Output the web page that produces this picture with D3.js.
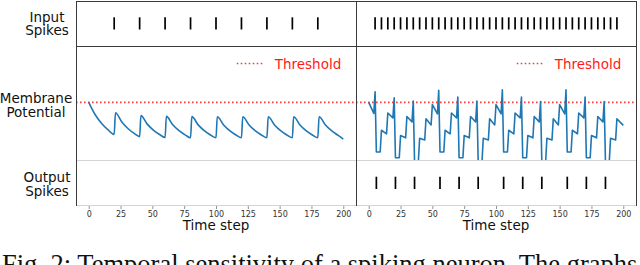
<!DOCTYPE html>
<html>
<head>
<meta charset="utf-8">
<script src="https://cdn.jsdelivr.net/npm/d3@7"></script>
<style>
  body { margin: 0; background: #fff; }
  svg { display: block; }
</style>
</head>
<body>
<svg width="640" height="265"></svg>
<script>
// values
const timeTicks = [0, 25, 50, 75, 100, 125, 150, 175, 200];
const threshold = 1.0;

const leftInputSpikes = [20, 40, 60, 80, 100, 120, 140, 160, 180];
const leftOutputSpikes = [];
const rightInputSpikes = [
  5, 10, 15, 20, 25, 30, 35, 40, 45, 50, 55, 60, 65, 70, 75, 80, 85, 90, 95,
  100, 105, 110, 115, 120, 125, 130, 135, 140, 145, 150, 155, 160, 165, 170,
  175, 180, 185, 190, 195,
];
const rightOutputSpikes = [6, 21, 36, 56, 71, 86, 106, 121, 136, 156, 171, 186];

// membrane potential [time step, potential] (threshold = 1)
const leftPotential = [
  [0, 1.0], [5, 0.726], [10, 0.527], [15, 0.383], [20, 0.278],
  [21, 0.766], [26, 0.556], [31, 0.404], [36, 0.293], [40, 0.227],
  [41, 0.701], [46, 0.509], [51, 0.369], [56, 0.268], [60, 0.208],
  [61, 0.683], [66, 0.496], [71, 0.36], [76, 0.261], [80, 0.202],
  [81, 0.678], [86, 0.492], [91, 0.357], [96, 0.259], [100, 0.2],
  [101, 0.676], [106, 0.491], [111, 0.356], [116, 0.259], [120, 0.2],
  [121, 0.676], [126, 0.491], [131, 0.356], [136, 0.259], [140, 0.2],
  [141, 0.676], [146, 0.491], [151, 0.356], [156, 0.259], [160, 0.2],
  [161, 0.676], [166, 0.491], [171, 0.356], [176, 0.259], [180, 0.2],
  [181, 0.676], [186, 0.491], [191, 0.356], [196, 0.255], [200, 0.17],
];
const rightPotential = [
  [0, 1.0], [4, 0.75], [5, 1.24], [6, -0.12], [9, -0.12], [10, 0.37], [14, 0.29],
  [15, 0.76], [19, 0.65], [20, 1.1], [21, -0.25], [24, -0.25], [25, 0.25], [29, 0.2],
  [30, 0.68], [34, 0.56], [35, 1.03], [36, -0.34], [39, -0.34], [40, 0.19], [44, 0.15],
  [45, 0.63], [49, 0.49], [50, 0.95], [54, 0.74], [55, 1.27],
  [56, -0.12], [59, -0.12], [60, 0.37], [64, 0.29], [65, 0.76], [69, 0.65], [70, 1.12],
  [71, -0.25], [74, -0.25], [75, 0.25], [79, 0.2], [80, 0.68], [84, 0.56], [85, 1.03],
  [86, -0.34], [89, -0.34], [90, 0.19], [94, 0.15], [95, 0.63], [99, 0.49], [100, 0.95],
  [104, 0.74], [105, 1.28],
  [106, -0.12], [109, -0.12], [110, 0.37], [114, 0.29], [115, 0.76], [119, 0.65], [120, 1.12],
  [121, -0.25], [124, -0.25], [125, 0.25], [129, 0.2], [130, 0.68], [134, 0.56], [135, 1.02],
  [136, -0.34], [139, -0.34], [140, 0.19], [144, 0.15], [145, 0.63], [149, 0.49], [150, 0.95],
  [154, 0.74], [155, 1.28],
  [156, -0.12], [159, -0.12], [160, 0.37], [164, 0.29], [165, 0.76], [169, 0.65], [170, 1.12],
  [171, -0.25], [174, -0.25], [175, 0.25], [179, 0.2], [180, 0.68], [184, 0.56], [185, 1.02],
  [186, -0.34], [189, -0.34], [190, 0.19], [194, 0.15], [195, 0.63], [200, 0.48],
];

const rowTop = 1;
const inputBottom = 46;
const memBottom = 160;
const outBottom = 205;
const font = "'DejaVu Sans', sans-serif";

const svg = d3.select("svg");

const yScale = d3.scaleLinear().domain([-0.3, 2.27]).range([memBottom, inputBottom]);

function drawPanel(id, x0, x1, inputSpikes, outputSpikes, potential, curve) {
  const xScale = d3.scaleLinear().domain([-10, 210]).range([x0, x1]);
  const g = svg.append("g").attr("id", id);

  g.append("clipPath")
    .attr("id", `clip-${id}`)
    .append("rect")
    .attr("x", x0)
    .attr("y", inputBottom)
    .attr("width", x1 - x0)
    .attr("height", memBottom - inputBottom);

  // light separators
  g.append("line")
    .attr("x1", x0).attr("x2", x1)
    .attr("y1", memBottom + 0.5).attr("y2", memBottom + 0.5)
    .attr("stroke", "#d4d4d4");
  g.append("line")
    .attr("x1", x0).attr("x2", x1)
    .attr("y1", outBottom + 0.5).attr("y2", outBottom + 0.5)
    .attr("stroke", "#d4d4d4");

  // threshold
  g.append("line")
    .attr("x1", x0).attr("x2", x1)
    .attr("y1", yScale(threshold)).attr("y2", yScale(threshold))
    .attr("stroke", "#ff3b3b")
    .attr("stroke-width", 1.6)
    .attr("stroke-dasharray", "1.6,2.4");

  const line = d3
    .line()
    .x((d) => xScale(d[0]))
    .y((d) => yScale(d[1]))
    .curve(curve);

  g.append("path")
    .datum(potential)
    .attr("clip-path", `url(#clip-${id})`)
    .attr("fill", "none")
    .attr("stroke", "#1f77b4")
    .attr("stroke-width", 1.6)
    .attr("stroke-linejoin", "round")
    .attr("d", line);

  // spikes
  g.selectAll(".in")
    .data(inputSpikes)
    .enter()
    .append("line")
    .attr("x1", (d) => xScale(d)).attr("x2", (d) => xScale(d))
    .attr("y1", 17.3).attr("y2", 29.5)
    .attr("stroke", "#000")
    .attr("stroke-width", 1.7);

  g.selectAll(".out")
    .data(outputSpikes)
    .enter()
    .append("line")
    .attr("x1", (d) => xScale(d)).attr("x2", (d) => xScale(d))
    .attr("y1", 176.7).attr("y2", 189)
    .attr("stroke", "#000")
    .attr("stroke-width", 1.7);

  // legend
  const lx = xScale(0) + 148;
  g.append("line")
    .attr("x1", lx).attr("x2", lx + 27)
    .attr("y1", 63.5).attr("y2", 63.5)
    .attr("stroke", "#ff3b3b")
    .attr("stroke-width", 1.6)
    .attr("stroke-dasharray", "1.6,2.4");
  g.append("text")
    .attr("x", lx + 38)
    .attr("y", 68.5)
    .attr("font-family", font)
    .attr("font-size", 13.5)
    .attr("fill", "#ff1a1a")
    .text("Threshold");

  // dark frame
  const dark = "#3a3a3a";
  [[x0, rowTop + 0.5, x1, rowTop + 0.5], [x0, inputBottom + 0.5, x1, inputBottom + 0.5],
   [x0 + 0.5, rowTop, x0 + 0.5, outBottom + 1], [x1 + 0.5, rowTop, x1 + 0.5, outBottom + 1]]
    .forEach(([a, b, c, d]) => {
      g.append("line")
        .attr("x1", a).attr("y1", b).attr("x2", c).attr("y2", d)
        .attr("stroke", dark)
        .attr("stroke-width", 1);
    });

  // x axis
  const axis = g.append("g").attr("transform", `translate(0, ${outBottom + 1})`);
  axis
    .call(d3.axisBottom(xScale).tickValues(timeTicks).tickSize(3).tickPadding(2))
    .call((a) => a.select(".domain").remove());
  axis.selectAll(".tick line").attr("stroke", "#777").attr("stroke-width", 0.8);
  axis
    .selectAll(".tick text")
    .attr("font-family", font)
    .attr("font-size", 8)
    .attr("fill", "#333");

  g.append("text")
    .attr("x", (x0 + x1) / 2)
    .attr("y", 230)
    .attr("text-anchor", "middle")
    .attr("font-family", font)
    .attr("font-size", 13.5)
    .attr("fill", "#111")
    .text("Time step");
}

drawPanel("left", 76, 356, leftInputSpikes, leftOutputSpikes, leftPotential, d3.curveMonotoneX);
drawPanel("right", 356, 636, rightInputSpikes, rightOutputSpikes, rightPotential, d3.curveLinear);

// row labels
const rowLabels = [
  { text: "Input", x: 47, y: 21.7 },
  { text: "Spikes", x: 47, y: 35 },
  { text: "Membrane", x: 36, y: 103 },
  { text: "Potential", x: 36, y: 117 },
  { text: "Output", x: 47, y: 181.7 },
  { text: "Spikes", x: 47, y: 196 },
];
svg
  .selectAll(".rowlabel")
  .data(rowLabels)
  .enter()
  .append("text")
  .attr("x", (d) => d.x)
  .attr("y", (d) => d.y)
  .attr("text-anchor", "middle")
  .attr("font-family", font)
  .attr("font-size", 13.5)
  .attr("fill", "#111")
  .text((d) => d.text);

// caption (cut off by the crop)
svg
  .append("text")
  .attr("x", 2)
  .attr("y", 272.5)
  .attr("font-family", "'Liberation Serif', 'Times New Roman', serif")
  .attr("font-size", 26.5)
  .attr("fill", "#111")
  .text("Fig. 2: Temporal sensitivity of a spiking neuron. The graphs");
</script>
</body>
</html>
